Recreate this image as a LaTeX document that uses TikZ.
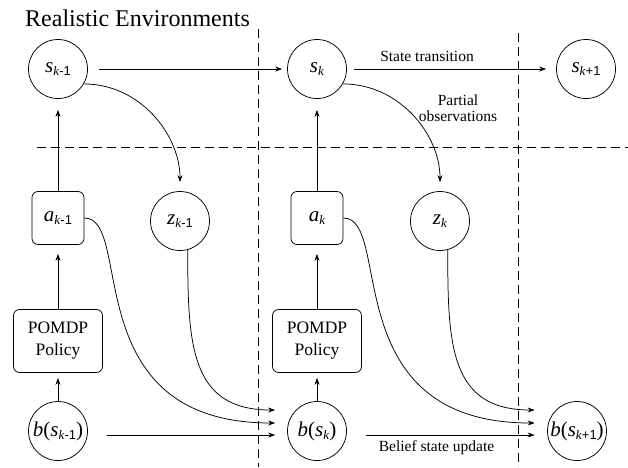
\documentclass[tikz,border=0pt]{standalone}
\usepackage{fontspec}
\setmainfont{Liberation Serif}
\setsansfont{Liberation Sans}
\usetikzlibrary{arrows.meta}
\newcommand\subs[1]{\raisebox{-3.5pt}{\fontsize{13}{13}\selectfont #1}}
\newcommand\km{\textit{k}{\sffamily -1}}
\newcommand\kp{\textit{k}{\sffamily +1}}
\begin{document}
\begin{tikzpicture}[x=1pt,y=-1pt,
  circ/.style={draw, circle, minimum size=59pt, inner sep=0pt, line width=0.75pt, font=\fontsize{21}{21}\selectfont},
  abox/.style={draw, rounded corners=6pt, line width=0.75pt, inner sep=0pt, minimum width=52pt, minimum height=53pt, font=\fontsize{21}{21}\selectfont},
  pbox/.style={draw, rounded corners=6pt, line width=0.75pt, inner sep=0pt, minimum width=89pt, minimum height=63pt, align=center, font=\fontsize{17.5}{22}\selectfont},
  arr/.style={-{Stealth[length=7pt,width=5pt]}, line width=0.75pt},
  sep/.style={dash pattern=on 9pt off 5pt, line width=0.75pt},
  lbl/.style={font=\fontsize{15.5}{15.5}\selectfont, align=center, inner sep=0pt}]
\useasboundingbox (0,0) rectangle (628,467);
\node[anchor=base west, inner sep=0pt, font=\fontsize{24}{24}\selectfont] (title) at (25,26) {Realistic Environments};
% separators
\draw[sep] (258,29) -- (258,467);
\draw[sep] (518,33) -- (518,467);
\draw[sep] (37,147) -- (628,147);
% nodes
\node[circ] (sk1) at (58,69) {\textit{s}\subs{\km}};
\node[circ] (sk) at (317,69) {\textit{s}\subs{\textit{k}}};
\node[circ] (sk2) at (586,69) {\textit{s}\subs{\kp}};
\node[abox] (ak1) at (58,218) {\textit{a}\subs{\km}};
\node[abox] (ak) at (317,218) {\textit{a}\subs{\textit{k}}};
\node[circ] (zk1) at (180,221) {\textit{z}\subs{\km}};
\node[circ] (zk) at (440,221) {\textit{z}\subs{\textit{k}}};
\node[pbox] (pol1) at (58,341) {POMDP\\Policy};
\node[pbox] (pol2) at (317,341) {POMDP\\Policy};
\node[circ] (bk1) at (58,431) {\textit{b}(\textit{s}\subs{\km})};
\node[circ] (bk) at (317,431) {\textit{b}(\textit{s}\subs{\textit{k}})};
\node[circ] (bk2) at (577,431) {\textit{b}(\textit{s}\subs{\kp})};
\node[lbl] (po) at (458,108) {Partial\\observations};
% connectors
\draw[arr, shorten <=11pt, shorten >=5pt] (sk1) -- (sk);
\draw[arr, shorten <=7pt, shorten >=10pt] (sk) -- node[lbl, pos=0.383, yshift=13pt] (st) {State transition} (sk2);
\draw[arr, shorten >=11pt] (ak1) -- (sk1);
\draw[arr, shorten >=11pt] (ak) -- (sk);
\draw[arr, shorten >=9pt] (pol1) -- (ak1);
\draw[arr, shorten >=9pt] (pol2) -- (ak);
\draw[arr, shorten >=5pt] (bk1) -- (pol1);
\draw[arr, shorten >=5pt] (bk) -- (pol2);
\draw[arr, shorten >=9pt] (sk1.-30) to[out=0, in=90] (zk1.north);
\draw[arr, shorten >=9pt] (sk.-30) to[out=0, in=90] (zk.north);
\draw[arr] (ak1.east) .. controls +(50,0) and +(-200,0) .. ([xshift=-12pt, yshift=8pt]bk.west);
\draw[arr] (ak.east) .. controls +(50,0) and +(-200,0) .. ([xshift=-12.5pt, yshift=8pt]bk2.west);
\draw[arr] (zk1.-75) .. controls +(0,95) and +(-85,0) .. ([xshift=-12pt, yshift=21pt]bk.west);
\draw[arr] (zk.-75) .. controls +(0,95) and +(-85,0) .. ([xshift=-12.5pt, yshift=21pt]bk2.west);
\draw[arr] ([xshift=19.5pt, yshift=-4pt]bk1.east) -- ([xshift=-12pt, yshift=-4pt]bk.west);
\draw[arr] ([xshift=19.5pt, yshift=-4pt]bk.east) -- node[lbl, pos=0.417, yshift=-13pt] (bsu) {Belief state update} ([xshift=-12.5pt, yshift=-4pt]bk2.west);
\end{tikzpicture}
\end{document}
